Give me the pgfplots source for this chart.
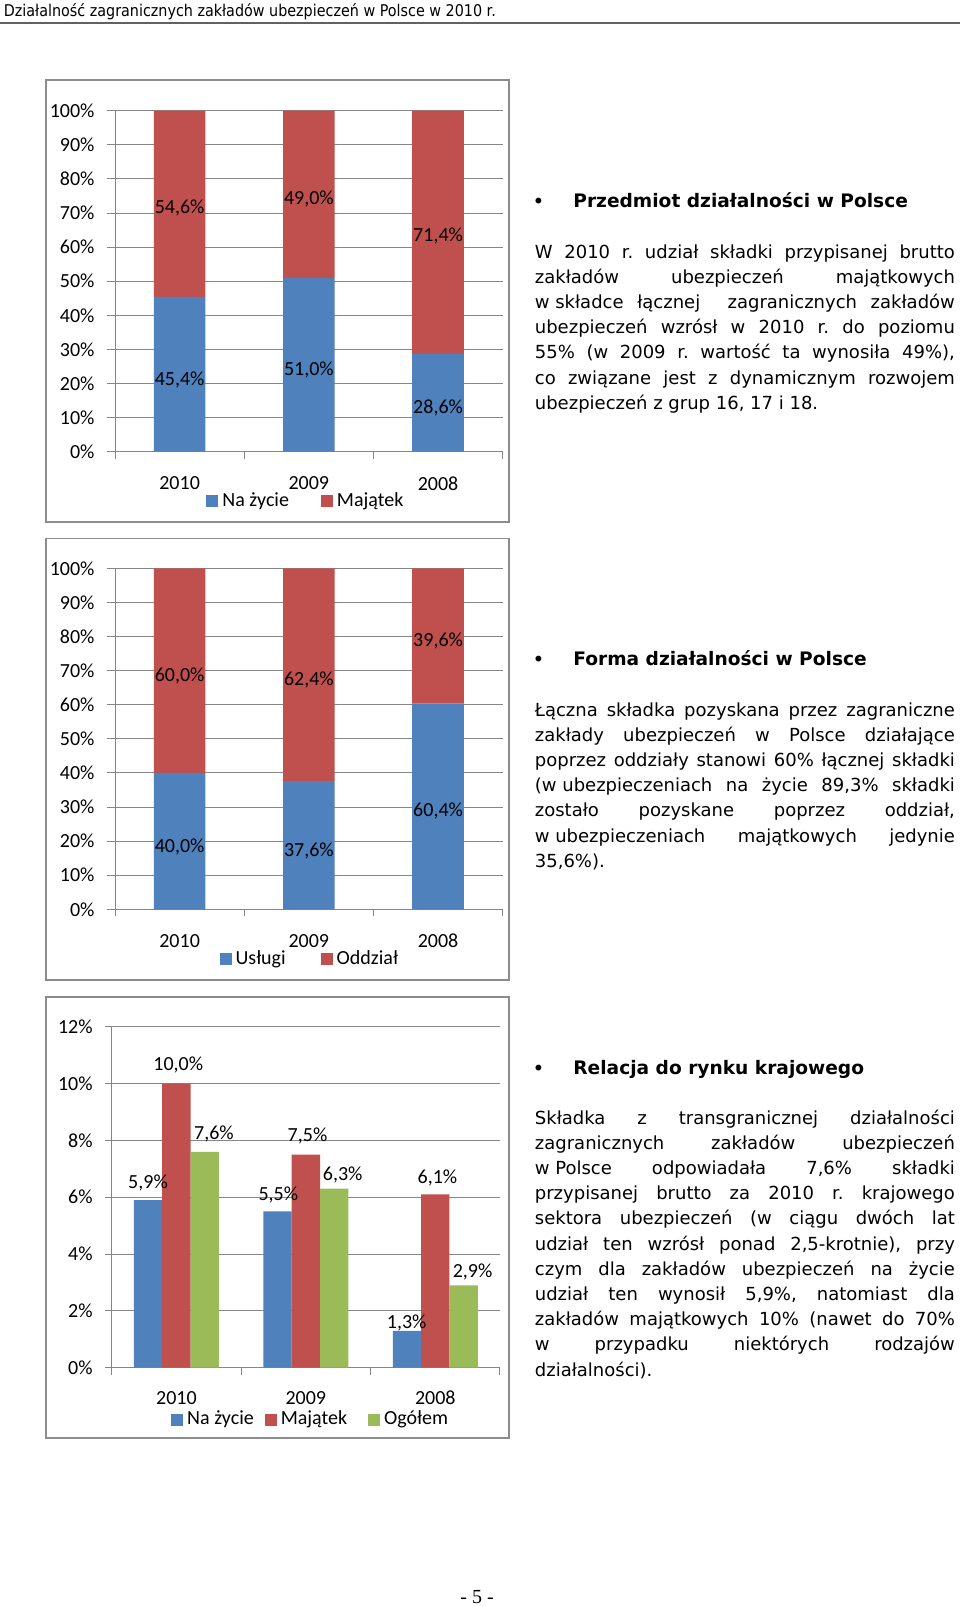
\documentclass[border=0pt]{standalone}
\usepackage{fontspec}
\setmainfont{Carlito}
\newfontfamily\dv{DejaVu Sans}
\newfontfamily\dvt[FakeStretch=0.885]{DejaVu Sans}
\newfontfamily\tms{Liberation Serif}
\usepackage{pgfplots}
\pgfplotsset{compat=1.18}
\definecolor{mblue}{RGB}{79,129,189}
\definecolor{mred}{RGB}{192,80,77}
\definecolor{mgreen}{RGB}{155,187,89}
\definecolor{gridc}{RGB}{134,134,134}
\definecolor{boxc}{RGB}{140,140,140}
\newcommand{\J}[1]{\hbox to 210pt{\spaceskip=0pt\xspaceskip=0pt #1}}
\newcommand{\lab}[3]{\node[font=\fontsize{10}{12}\selectfont, text depth=0pt, inner sep=0pt] at (axis cs:#1,#2) {#3};}
\newcommand{\gap}[1]{\rule{#1}{0pt}}
\pgfplotsset{
 mychart/.style={
  scale only axis, width=193.85pt, height=170.5pt, anchor=south west,
  xmin=-0.5, xmax=2.5, enlargelimits=false,
  axis x line*=bottom, axis y line*=left,
  axis line style={gridc, line width=0.5pt},
  xtick={0,1,2}, xticklabels={2010,2009,2008},
  minor xtick={-0.5,0.5,1.5,2.5},
  major x tick style={draw=none},
  minor tick length=3.4pt, major tick length=4.1pt,
  tick align=outside,
  tick style={gridc, line width=0.5pt},
  ymajorgrids, grid style={gridc, line width=0.5pt},
  ticklabel style={font=\fontsize{10}{12}\selectfont},
  yticklabel style={xshift=-2.6pt},
  xticklabel style={yshift=-4.8pt},
  legend style={draw=none, fill=none, legend columns=-1, font=\fontsize{10}{12}\selectfont, anchor=center},
 },
 overlay/.style={scale only axis, width=193.85pt, height=170.5pt, anchor=south west,
  xmin=-0.5, xmax=2.5, hide axis, clip=false},
 sqlegend/.style={legend image code/.code={\fill[##1] (0pt,-3pt) rectangle (6pt,3pt);}},
}
\begin{document}
\begin{tikzpicture}
\begin{scope}[x=0.5pt,y=-0.5pt]
 \path[use as bounding box, fill=white] (0,0) rectangle (960,1607);
 \coordinate (c1) at (115,451.7);
 \coordinate (c2) at (115,909.3);
 \coordinate (c3) at (111.7,1367.7);
 % header
 \node[anchor=base west, inner sep=0pt, font=\dvt\fontsize{8.1}{9}\selectfont] at (3.5,16.5) {Działalność zagranicznych zakładów ubezpieczeń w Polsce w 2010 r.};
 \draw[line width=1pt, color=black!62] (0,23) -- (960,23);
 % chart boxes
 \draw[boxc, line width=0.8pt] (46,80) rectangle (509,522);
 \draw[boxc, line width=0.8pt] (46,538.3) rectangle (509,980);
 \draw[boxc, line width=0.8pt] (46,996.7) rectangle (509,1438);
 % bullets and headings
 \foreach \yb/\tx in {207.7/Przedmiot działalności w Polsce, 665.7/Forma działalności w Polsce, 1074.5/Relacja do rynku krajowego}{
   \node[anchor=center, inner sep=0pt, font=\dv\fontsize{10}{12}\selectfont] at (538.5,\yb-4.6) {•};
   \node[anchor=base west, inner sep=0pt, font=\dv\bfseries\fontsize{9.3}{11}\selectfont] at (573,\yb) {\tx};
 }
 % paragraphs
 \node[anchor=base west, inner sep=0pt, text width=210pt, align=justify, font=\dv\fontsize{9}{12.6}\selectfont\frenchspacing] at (534.5,258) {%
 \J{W 2010 r. udział składki przypisanej brutto}
 \J{zakładów ubezpieczeń majątkowych}
 \J{\mbox{w składce} łącznej\ \ zagranicznych zakładów}
 \J{ubezpieczeń wzrósł w 2010 r. do poziomu}
 \J{55\% (w 2009 r. wartość ta wynosiła 49\%),}
 \J{co związane jest z dynamicznym rozwojem}
 \hbox{ubezpieczeń z grup 16, 17 i 18.}};
 \node[anchor=base west, inner sep=0pt, text width=210pt, align=justify, font=\dv\fontsize{9}{12.6}\selectfont\frenchspacing] at (534.5,716) {%
 \J{Łączna składka pozyskana przez zagraniczne}
 \J{zakłady ubezpieczeń w Polsce działające}
 \J{poprzez oddziały stanowi 60\% łącznej składki}
 \J{\mbox{(w ubezpieczeniach} na życie 89,3\% składki}
 \J{zostało pozyskane poprzez oddział,}
 \J{\mbox{w ubezpieczeniach} majątkowych jedynie}
 \hbox{35,6\%).}};
 \node[anchor=base west, inner sep=0pt, text width=210pt, align=justify, font=\dv\fontsize{9}{12.6}\selectfont\frenchspacing] at (534.5,1124) {%
 \J{Składka z transgranicznej działalności}
 \J{zagranicznych zakładów ubezpieczeń}
 \J{\mbox{w Polsce} odpowiadała 7,6\% składki}
 \J{przypisanej brutto za 2010 r. krajowego}
 \J{sektora ubezpieczeń (w ciągu dwóch lat}
 \J{udział ten wzrósł ponad 2,5-krotnie), przy}
 \J{czym dla zakładów ubezpieczeń na życie}
 \J{udział ten wynosił 5,9\%, natomiast dla}
 \J{zakładów majątkowych 10\% (nawet do 70\%}
 \J{w przypadku niektórych rodzajów}
 \hbox{działalności).}};
 % page number
 \node[anchor=base, inner sep=0pt, font=\tms\fontsize{10}{12}\selectfont] at (477,1603) {- 5 -};
\end{scope}

% Chart 1
\begin{axis}[mychart, at={(c1)}, ybar stacked, bar width=0.4, sqlegend,
  ymin=0, ymax=100, ytick={0,10,...,100},
  yticklabels={0\%,10\%,20\%,30\%,40\%,50\%,60\%,70\%,80\%,90\%,100\%},
  legend style={at={(0.495,-0.146)}}]
\addplot[fill=mblue, draw=none] coordinates {(0,45.4) (1,51.0) (2,28.6)};
\addplot[fill=mred, draw=none] coordinates {(0,54.6) (1,49.0) (2,71.4)};
\addlegendentry{Na życie\gap{14pt}}
\addlegendentry{Majątek}
\end{axis}
\begin{axis}[overlay, at={(c1)}, ymin=0, ymax=100]
\lab{0}{21.5}{45,4\%}\lab{0}{71.8}{54,6\%}
\lab{1}{24.4}{51,0\%}\lab{1}{74.5}{49,0\%}
\lab{2}{13.2}{28,6\%}\lab{2}{63.5}{71,4\%}
\end{axis}

% Chart 2
\begin{axis}[mychart, at={(c2)}, ybar stacked, bar width=0.4, sqlegend,
  ymin=0, ymax=100, ytick={0,10,...,100},
  yticklabels={0\%,10\%,20\%,30\%,40\%,50\%,60\%,70\%,80\%,90\%,100\%},
  legend style={at={(0.505,-0.146)}}]
\addplot[fill=mblue, draw=none] coordinates {(0,40.0) (1,37.6) (2,60.4)};
\addplot[fill=mred, draw=none] coordinates {(0,60.0) (1,62.4) (2,39.6)};
\addlegendentry{Usługi\gap{15.5pt}}
\addlegendentry{Oddział}
\end{axis}
\begin{axis}[overlay, at={(c2)}, ymin=0, ymax=100]
\lab{0}{18.65}{40,0\%}\lab{0}{68.9}{60,0\%}
\lab{1}{17.4}{37,6\%}\lab{1}{67.7}{62,4\%}
\lab{2}{29.1}{60,4\%}\lab{2}{79.2}{39,6\%}
\end{axis}

% Chart 3
\begin{axis}[mychart, at={(c3)}, width=194.15pt, ybar=0pt, bar width=0.219, sqlegend,
  ymin=0, ymax=12, ytick={0,2,...,12},
  yticklabels={0\%,2\%,4\%,6\%,8\%,10\%,12\%},
  major tick length=3.4pt,
  legend style={at={(0.515,-0.152)}}]
\addplot[fill=mblue, draw=none, bar shift=-0.219] coordinates {(0,5.9) (1,5.5) (2,1.3)};
\addplot[fill=mred, draw=none, bar shift=0] coordinates {(0,10.0) (1,7.5) (2,6.1)};
\addplot[fill=mgreen, draw=none, bar shift=0.219] coordinates {(0,7.6) (1,6.3) (2,2.9)};
\addlegendentry{Na życie\gap{3.5pt}}
\addlegendentry{Majątek\gap{8.5pt}}
\addlegendentry{Ogółem}
\lab{-0.2195}{6.545}{5,9\%}
\lab{0.0146}{10.712}{10,0\%}
\lab{0.290}{8.27}{7,6\%}
\lab{0.787}{6.113}{5,5\%}
\lab{1.0128}{8.213}{7,5\%}
\lab{1.285}{6.841}{6,3\%}
\lab{1.779}{1.619}{1,3\%}
\lab{2.017}{6.721}{6,1\%}
\lab{2.288}{3.403}{2,9\%}
\end{axis}
\end{tikzpicture}
\end{document}
